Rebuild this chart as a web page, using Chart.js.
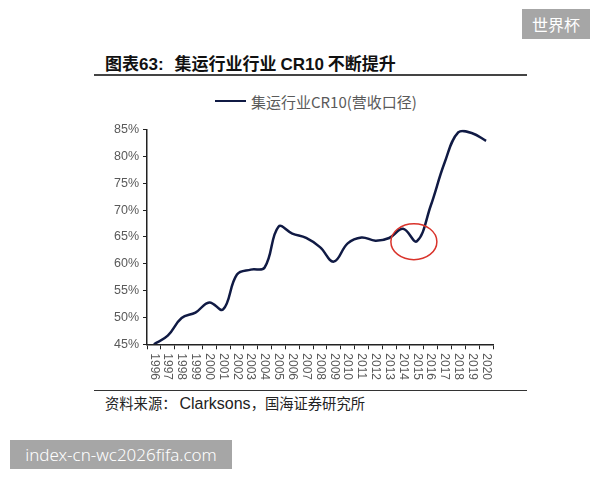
<!DOCTYPE html>
<html lang="zh">
<head>
  <meta charset="UTF-8" />
  <title>集运行业CR10</title>
  <script src="https://cdn.jsdelivr.net/npm/chart.js"></script>
  <style>
    body {
      margin: 0;
      width: 600px;
      height: 480px;
      background: #ffffff;
      position: relative;
      overflow: hidden;
      font-family: 'Noto Sans CJK SC', sans-serif;
    }
    .title {
      position: absolute;
      left: 105px;
      top: 50px;
      font-size: 17px;
      font-weight: 700;
      color: #111;
      white-space: nowrap;
    }
    .title .num { font-family: 'Liberation Sans', Arial, sans-serif; }
    .title .gap { display: inline-block; width: 11px; }
    .rule-top {
      position: absolute; left: 94px; top: 74px; width: 433px; height: 2px; background: #444;
    }
    .rule-bottom {
      position: absolute; left: 94px; top: 390px; width: 433px; height: 1px; background: #333;
    }
    .source {
      position: absolute;
      left: 105px;
      top: 392px;
      font-size: 14.3px;
      color: #222;
      white-space: nowrap;
    }
    .source .latin { font-family: 'Liberation Sans', Arial, sans-serif; font-size: 16px; margin-left: 3px; }
    .legend {
      position: absolute;
      left: 215px;
      top: 91px;
      height: 20px;
      display: flex;
      align-items: center;
      white-space: nowrap;
      font-size: 15px;
      color: #5a5a5a;
    }
    .legend i {
      display: inline-block;
      width: 31px;
      height: 2.5px;
      background: #101a44;
      margin-right: 5px;
    }
    .chart-box {
      position: absolute;
      left: 94px;
      top: 118px;
      width: 440px;
      height: 262px;
    }
    .mark {
      position: absolute;
      background: #a6a6a6;
      color: #fff;
      font-family: 'Noto Sans', 'Noto Sans CJK SC', sans-serif;
      font-size: 16px;
      display: flex;
      align-items: center;
      justify-content: center;
    }
  </style>
</head>
<body>
  <div class="title">图表<span class="num">63:</span><span class="gap"></span>集运行业行业 <span class="num">CR10</span> 不断提升</div>
  <div class="rule-top"></div>

  <div class="legend"><i></i><span id="legendText"></span></div>
  <div class="chart-box"><canvas id="cr10"></canvas></div>

  <div class="rule-bottom"></div>
  <div class="source">资料来源：<span class="latin">Clarksons</span>，国海证券研究所</div>

  <div class="mark" style="left:522px; top:9px; width:68px; height:30px;">世界杯</div>
  <div class="mark" style="left:10px; top:440px; width:222px; height:29px; font-size:17px; font-weight:300;">index-cn-wc2026fifa.com</div>

<script>
  const years = ['1996','1997','1998','1999','2000','2001','2002','2003','2004','2005','2006','2007','2008',
                 '2009','2010','2011','2012','2013','2014','2015','2016','2017','2018','2019','2020'];
  const cr10 = [45.0, 46.6, 49.9, 50.9, 52.8, 51.5, 58.0, 58.9, 59.3, 66.9, 65.6, 64.8, 63.1,
                60.4, 63.8, 64.9, 64.3, 64.8, 66.5, 64.2, 70.8, 78.8, 84.5, 84.3, 82.9];
  const seriesName = '集运行业CR10(营收口径)';
  const yMin = 45, yMax = 85, yStep = 5;

  document.getElementById('legendText').textContent = seriesName;

  // draws year labels top-to-bottom and the red highlight ellipse
  const extras = {
    id: 'extras',
    afterDraw(chart) {
      const ctx = chart.ctx;
      const x = chart.scales.x, y = chart.scales.y;
      ctx.save();
      ctx.fillStyle = '#595959';
      ctx.font = '12px "Liberation Sans", Arial, sans-serif';
      ctx.textAlign = 'left';
      ctx.textBaseline = 'middle';
      years.forEach((yr, i) => {
        ctx.save();
        ctx.translate(x.getPixelForTick(i), y.bottom + 9);
        ctx.rotate(Math.PI / 2);
        ctx.fillText(yr, 0, 0);
        ctx.restore();
      });
      // circle around the 2015 dip
      const cx = x.getPixelForValue(19) - 3;
      const cy = y.getPixelForValue(64.1);
      ctx.strokeStyle = '#d9332b';
      ctx.lineWidth = 1.5;
      ctx.beginPath();
      ctx.ellipse(cx, cy, 23, 18, 0, 0, Math.PI * 2);
      ctx.stroke();
      ctx.restore();
    }
  };

  new Chart(document.getElementById('cr10'), {
    type: 'line',
    data: {
      labels: years,
      datasets: [{
        label: seriesName,
        data: cr10,
        borderColor: '#101a44',
        backgroundColor: '#101a44',
        borderWidth: 2.5,
        pointRadius: 0,
        tension: 0.4,
        fill: false
      }]
    },
    options: {
      responsive: true,
      maintainAspectRatio: false,
      animation: false,
      layout: { padding: { right: 41, top: 5 } },
      plugins: {
        tooltip: { enabled: false },
        legend: { display: false }
      },
      scales: {
        x: {
          offset: true,
          border: { color: '#222', width: 1.5 },
          grid: { display: true, drawOnChartArea: false, drawTicks: true, tickLength: 5, color: '#222', offset: true },
          ticks: {
            color: 'rgba(0,0,0,0)',
            font: { family: "'Liberation Sans', Arial, sans-serif", size: 12 },
            minRotation: 90,
            maxRotation: 90,
            autoSkip: false,
            padding: 2
          }
        },
        y: {
          min: yMin,
          max: yMax,
          afterFit(scale) { scale.width = 53; },
          border: { color: '#222', width: 1.5 },
          grid: { display: true, drawOnChartArea: false, drawTicks: true, tickLength: 4, color: '#222' },
          ticks: {
            stepSize: yStep,
            color: '#595959',
            font: { family: "'Liberation Sans', Arial, sans-serif", size: 12.5 },
            padding: 4,
            callback: v => v + '%'
          }
        }
      }
    },
    plugins: [extras]
  });
</script>
</body>
</html>
